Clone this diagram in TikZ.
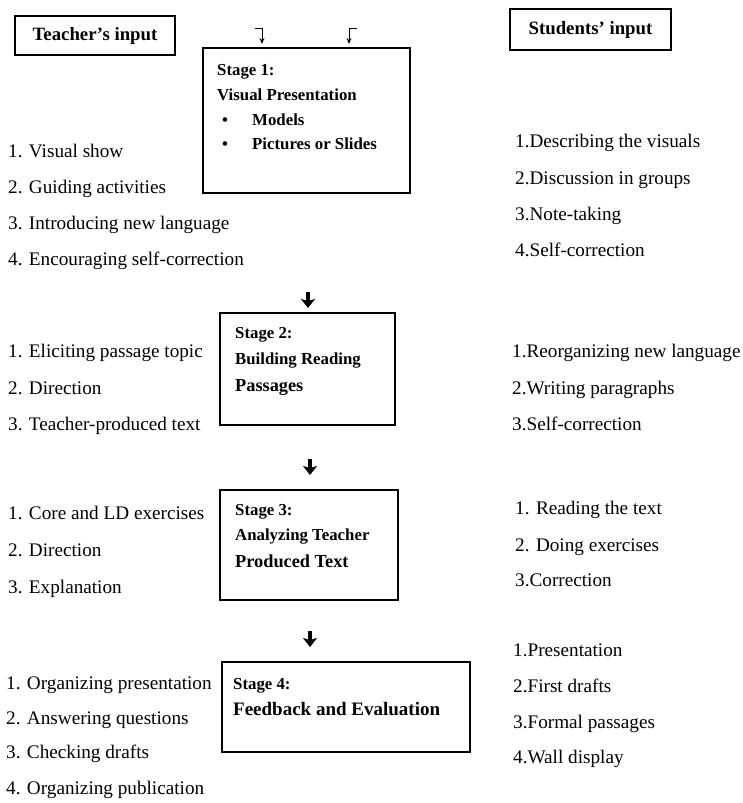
\documentclass[tikz,border=0pt]{standalone}
\usepackage{fontspec}
\setmainfont{Liberation Serif}
\usetikzlibrary{arrows.meta}
\begin{document}
\begin{tikzpicture}[x=1pt,y=-1pt,
  lst/.style={anchor=base west,inner sep=0pt,font=\fontsize{19.2}{21}\selectfont},
  bt/.style={anchor=base west,inner sep=0pt,font=\bfseries\fontsize{16.8}{18}\selectfont},
  btl/.style={anchor=base west,inner sep=0pt,font=\bfseries\fontsize{18.3}{20}\selectfont},
  frame/.style={draw,line width=1.2pt,inner sep=0pt},
  hdr/.style={draw,line width=1.2pt,inner sep=0pt,font=\bfseries\fontsize{18.8}{20}\selectfont},
  flow/.style={line width=3.5pt,-{Stealth[width=14pt,length=9pt,inset=2pt]}},
  tick/.style={line width=1pt,-{Stealth[width=5pt,length=6pt]}}
]
\useasboundingbox (0,0) rectangle (743,803);

% header boxes
\node[hdr,minimum width=160,minimum height=39] (tin) at (95,35.5) {Teacher’s input};
\node[hdr,minimum width=161,minimum height=41] (sin) at (590.5,29.5) {Students’ input};

% stage boxes
\node[frame,minimum width=207,minimum height=145] (s1) at (306.5,120.5) {};
\node[frame,minimum width=175,minimum height=112] (s2) at (307.5,369) {};
\node[frame,minimum width=178,minimum height=110] (s3) at (309,545) {};
\node[frame,minimum width=248,minimum height=90] (s4) at (346,707) {};

% small top arrows
\coordinate (ta0) at (255,28);
\coordinate (ta1) at (262,28);
\coordinate (ta2) at (262,44);
\coordinate (tb0) at (357,28);
\coordinate (tb1) at (349,28);
\coordinate (tb2) at (349,44);
\draw[tick] (ta0) -- (ta1) -- (ta2);
\draw[tick] (tb0) -- (tb1) -- (tb2);

% flow arrows
\coordinate (a1) at (308,292);
\coordinate (a1e) at (308,308);
\coordinate (a2) at (310,459);
\coordinate (a2e) at (310,475);
\coordinate (a3) at (310,631);
\coordinate (a3e) at (310,647);
\draw[flow] (a1) -- (a1e);
\draw[flow] (a2) -- (a2e);
\draw[flow] (a3) -- (a3e);

% stage texts
\node[bt] (s1a) at (217,75) {Stage 1:};
\node[bt] (s1b) at (217,100) {Visual Presentation};
\node[bt] (s1c) at (222,125) {\textbullet};
\node[bt] (s1d) at (252,125) {Models};
\node[bt] (s1e) at (222,149) {\textbullet};
\node[bt] (s1f) at (252,149) {Pictures or Slides};

\node[bt] (s2a) at (235,338) {Stage 2:};
\node[bt] (s2b) at (235,364) {Building Reading};
\node[btl] (s2c) at (235,391) {Passages};

\node[bt] (s3a) at (235,515) {Stage 3:};
\node[bt] (s3b) at (235,540) {Analyzing Teacher};
\node[btl] (s3c) at (235,567) {Produced Text};

\node[bt] (s4a) at (233,689) {Stage 4:};
\node[bt,font=\bfseries\fontsize{19}{20}\selectfont] (s4b) at (233,715) {Feedback and Evaluation};

% teacher lists
\node[lst] (t11) at (8,157) {1. Visual show};
\node[lst] (t12) at (8,193) {2. Guiding activities};
\node[lst] (t13) at (8,229) {3. Introducing new language};
\node[lst] (t14) at (8,265) {4. Encouraging self-correction};

\node[lst] (t21) at (8,357) {1. Eliciting passage topic};
\node[lst] (t22) at (8,394) {2. Direction};
\node[lst] (t23) at (8,430) {3. Teacher-produced text};

\node[lst] (t31) at (8,519) {1. Core and LD exercises};
\node[lst] (t32) at (8,556) {2. Direction};
\node[lst] (t33) at (8,593) {3. Explanation};

\node[lst] (t41) at (6,689) {1. Organizing presentation};
\node[lst] (t42) at (6,724) {2. Answering questions};
\node[lst] (t43) at (6,758) {3. Checking drafts};
\node[lst] (t44) at (6,794) {4. Organizing publication};

% student lists
\node[lst] (r11) at (515,147) {1.Describing the visuals};
\node[lst] (r12) at (515,184) {2.Discussion in groups};
\node[lst] (r13) at (515,220) {3.Note-taking};
\node[lst] (r14) at (515,256) {4.Self-correction};

\node[lst] (r21) at (512,357) {1.Reorganizing new language};
\node[lst] (r22) at (512,394) {2.Writing paragraphs};
\node[lst] (r23) at (512,430) {3.Self-correction};

\node[lst] (r31) at (515,514) {1. Reading the text};
\node[lst] (r32) at (515,551) {2. Doing exercises};
\node[lst] (r33) at (515,586) {3.Correction};

\node[lst] (r41) at (513,656) {1.Presentation};
\node[lst] (r42) at (513,692) {2.First drafts};
\node[lst] (r43) at (513,728) {3.Formal passages};
\node[lst] (r44) at (513,763) {4.Wall display};
\end{tikzpicture}
\end{document}
